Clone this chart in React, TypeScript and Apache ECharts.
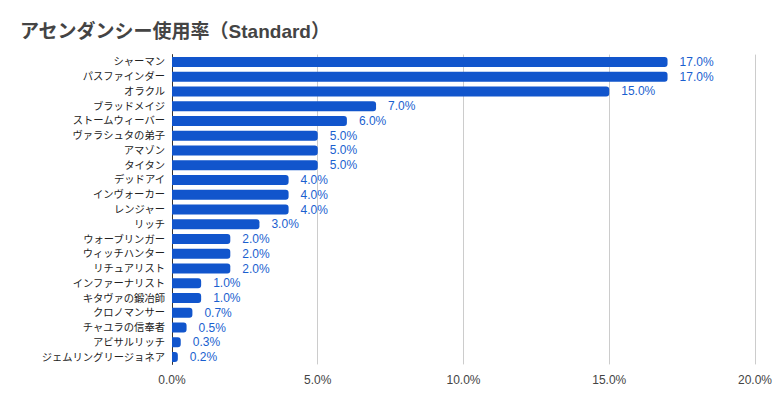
import React, { useEffect, useRef } from "react";
import * as echarts from "echarts";

const categories = [
  "シャーマン",
  "パスファインダー",
  "オラクル",
  "ブラッドメイジ",
  "ストームウィーバー",
  "ヴァラシュタの弟子",
  "アマゾン",
  "タイタン",
  "デッドアイ",
  "インヴォーカー",
  "レンジャー",
  "リッチ",
  "ウォーブリンガー",
  "ウィッチハンター",
  "リチュアリスト",
  "インファーナリスト",
  "キタヴァの鍛冶師",
  "クロノマンサー",
  "チャユラの信奉者",
  "アビサルリッチ",
  "ジェムリングリージョネア",
];

const usage = [17, 17, 15, 7, 6, 5, 5, 5, 4, 4, 4, 3, 2, 2, 2, 1, 1, 0.7, 0.5, 0.3, 0.2];

const xTicks = [0, 5, 10, 15, 20];

const titleText = "アセンダンシー使用率（Standard）";

export default function App() {
  const ref = useRef<HTMLDivElement>(null);
  useEffect(() => {
    if (!ref.current) return;
    const chart = echarts.init(ref.current, undefined, { renderer: "svg" });
    const font = "Arial, 'Liberation Sans', 'Noto Sans CJK JP', sans-serif";
    chart.setOption({
      animation: false,
      backgroundColor: "#ffffff",
      textStyle: { fontFamily: font },
      title: {
        text: titleText,
        left: 15,
        top: 17,
        textStyle: { fontSize: 19, fontWeight: "bold", color: "#444444", fontFamily: font },
      },
      grid: { left: 172, right: 20, top: 54.6, bottom: 40.6, containLabel: false },
      xAxis: {
        type: "value",
        min: xTicks[0],
        max: xTicks[xTicks.length - 1],
        interval: 5,
        axisLine: { show: false },
        axisTick: { show: false },
        splitLine: { show: true, lineStyle: { color: "#cccccc", width: 1 } },
        axisLabel: {
          color: "#444444",
          fontSize: 12,
          margin: 10,
          formatter: (v: number) => v.toFixed(1) + "%",
        },
      },
      yAxis: {
        type: "category",
        data: categories,
        inverse: true,
        axisLine: { show: true, lineStyle: { color: "#333333", width: 1 } },
        axisTick: { show: false },
        axisLabel: { color: "#222222", fontSize: 10.3, margin: 7 },
      },
      series: [
        {
          type: "bar",
          data: usage,
          barWidth: 10,
          itemStyle: { color: "#1155cc", borderRadius: [0, 3, 3, 0] },
          label: {
            show: true,
            position: "right",
            distance: 12,
            color: "#1a5fcf",
            fontSize: 12,
            formatter: (p: any) => Number(p.value).toFixed(1) + "%",
          },
        },
      ],
    });
    return () => chart.dispose();
  }, []);
  return (
    <div
      ref={ref}
      style={{ position: "fixed", left: 0, top: 0, width: 775, height: 405 }}
    />
  );
}
